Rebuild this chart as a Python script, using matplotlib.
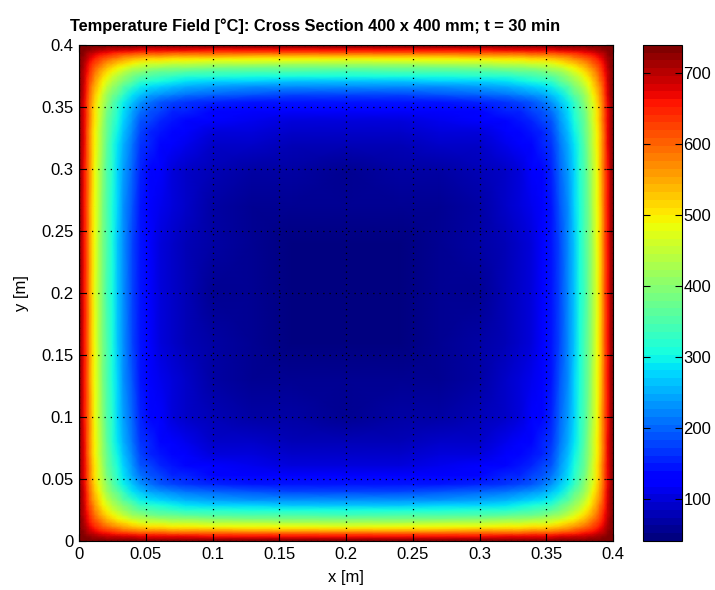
import numpy as np
from matplotlib import pyplot as plt

plt.rcParams['font.family'] = ['Liberation Sans', 'DejaVu Sans']

# temperature along the centre line (distance from the hot face)
d_prof = [0.0, 0.002, 0.004, 0.006, 0.008, 0.010, 0.012, 0.015, 0.018, 0.021,
          0.025, 0.029, 0.033, 0.040, 0.046, 0.053, 0.061, 0.070, 0.080,
          0.100, 0.130, 0.160, 0.200]
T_centre = [739, 700, 660, 610, 560, 515, 477, 430, 385, 345,
            303, 265, 230, 180, 142, 120, 103, 88, 77,
            62, 52, 46, 43]

T_fire = 739
T_init = 20
side = 0.4

xticks = [0, 0.05, 0.1, 0.15, 0.2, 0.25, 0.3, 0.35, 0.4]
xtick_labels = ['0', '0.05', '0.1', '0.15', '0.2', '0.25', '0.3', '0.35', '0.4']
cbar_ticks = [100, 200, 300, 400, 500, 600, 700]
clim = (41, 739)

# mirror the half profile over the whole section
d = np.array(d_prof)
Tc = np.array(T_centre, dtype=float)
nodes = np.concatenate([d, side - d[::-1][1:]])
Tline = np.concatenate([Tc, Tc[::-1][1:]])

# dimensionless profile, product solution gives the 2D field
g = (T_fire - Tline) / (T_fire - T_init)
c = np.sqrt(g.max())
theta = g / c
X, Y = np.meshgrid(nodes, nodes)
TH_x, TH_y = np.meshgrid(theta, theta)
T = T_fire - (T_fire - T_init) * TH_x * TH_y

fig = plt.figure(figsize=(7.15, 5.9), dpi=100)
ax = fig.add_axes([0.1105, 0.0831, 0.7469, 0.8407])
cax = fig.add_axes([0.8993, 0.0831, 0.0545, 0.8407])

pc = ax.pcolormesh(X, Y, T, cmap=plt.get_cmap('jet', 64), shading='gouraud',
                   vmin=clim[0], vmax=clim[1])
ax.set_xlim(0, side)
ax.set_ylim(0, side)
ax.set_xticks(xticks)
ax.set_xticklabels(xtick_labels)
ax.set_yticks(xticks)
ax.set_yticklabels(xtick_labels)
ax.tick_params(direction='in', top=True, right=True, labelsize=12, length=5, pad=4)
ax.grid(True, color='black', linestyle=(0, (1, 4)), linewidth=0.9)
ax.set_xlabel('x [m]', fontsize=12, labelpad=6)
ax.set_ylabel('y [m]', fontsize=12, labelpad=9)
ttl = ax.set_title('Temperature Field [°C]: Cross Section 400 x 400 mm; t = 30 min',
                   fontsize=11.8, fontweight='bold', pad=10)
ttl.set_x(0.442)

cb = fig.colorbar(pc, cax=cax, ticks=cbar_ticks)
cb.ax.tick_params(direction='in', left=True, right=True, labelsize=12, length=5, pad=1)

plt.savefig('out.png', dpi=100)
